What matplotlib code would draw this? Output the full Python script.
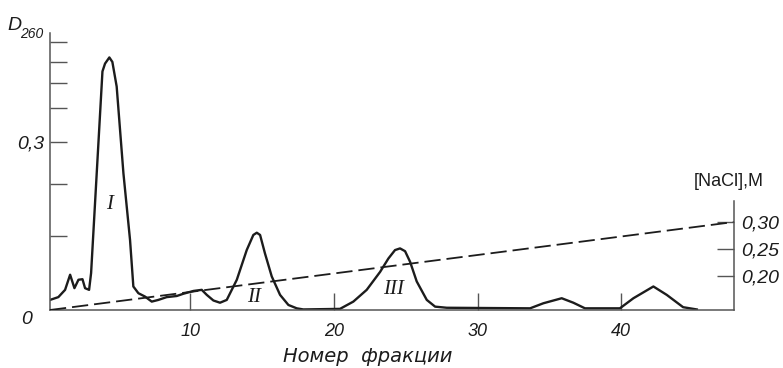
import matplotlib
matplotlib.use('Agg')
import matplotlib.pyplot as plt

# elution profile, D260 per fraction
fraction = [0.24, 0.82, 1.29, 1.64, 1.94, 2.22, 2.5, 2.68, 2.96, 3.10, 3.89, 4.07,
            4.37, 4.58, 4.88, 5.35, 5.81, 6.04, 6.39, 6.85, 7.32, 7.78, 8.36, 9.06,
            9.52, 10.22, 10.8, 11.15, 11.61, 12.07, 12.54, 12.89, 13.24, 13.93, 14.39,
            14.63, 14.86, 15.2, 15.67, 16.25, 16.83, 17.41, 17.87, 20.42, 21.35, 22.28,
            23.21, 23.79, 24.25, 24.6, 24.95, 25.3, 25.76, 26.46, 27.04, 27.85, 33.65,
            34.57, 35.85, 36.66, 37.47, 39.9, 40.84, 42.23, 43.16, 44.3, 45.25]
d260 = [0.018, 0.023, 0.036, 0.063, 0.039, 0.054, 0.055, 0.039, 0.036, 0.066, 0.426, 0.44,
        0.451, 0.443, 0.399, 0.244, 0.125, 0.042, 0.030, 0.024, 0.015, 0.018, 0.023, 0.025,
        0.029, 0.034, 0.036, 0.027, 0.017, 0.013, 0.018, 0.036, 0.054, 0.107, 0.134,
        0.138, 0.134, 0.101, 0.060, 0.027, 0.009, 0.003, 0.001, 0.002, 0.015, 0.036,
        0.068, 0.092, 0.107, 0.110, 0.105, 0.086, 0.051, 0.018, 0.006, 0.004, 0.003,
        0.012, 0.021, 0.013, 0.003, 0.003, 0.021, 0.042, 0.027, 0.005, 0.001]

# NaCl gradient
grad_fraction = [0.24, 47.84]
grad_nacl = [0.137, 0.300]

left_ticks = [0.132, 0.225, 0.3, 0.36, 0.405, 0.442, 0.478]
left_labels = ['', '', '0,3', '', '', '', '']
x_ticks = [10, 20, 30, 40]
right_ticks = [0.20, 0.25, 0.30]
right_labels = ['0,20', '0,25', '0,30']

peak_names = ['I', 'II', 'III']
peak_x = [4.42, 14.44, 24.18]
peak_y = [0.1875, 0.023, 0.036]

narrow = ['Liberation Sans', 'DejaVu Sans']
ink = '#1c1c1c'
spine_c = '#555555'

fig = plt.figure(figsize=(7.83, 3.68), dpi=100)
ax = fig.add_axes([50/783, 58/368, 684/783, 280/368])
ax2 = ax.twinx()

ax.plot(fraction, d260, color=ink, lw=1.7, solid_joinstyle='round')
ax2.plot(grad_fraction, grad_nacl, color=ink, lw=1.3, dashes=(9, 3.3))

ax.set_xlim(0.24, 47.84)
ax.set_ylim(0, 0.5)
ax2.set_ylim(0.137, 0.6556)

for a in (ax, ax2):
    a.spines['top'].set_visible(False)
    for s in a.spines.values():
        s.set_color(spine_c)
        s.set_linewidth(1.1)
ax.spines['right'].set_visible(False)
ax2.spines['left'].set_visible(False)
ax2.spines['bottom'].set_visible(False)
ax.spines['left'].set_bounds(0, 0.495)
ax2.spines['right'].set_bounds(0.137, 0.338)

ax.set_xticks(x_ticks)
ax.set_xticklabels([str(t) for t in x_ticks])
ax.tick_params(axis='x', direction='in', length=12, width=1, color=spine_c, pad=9,
               labelsize=13, labelcolor=ink)
ax.set_yticks(left_ticks)
ax.set_yticklabels(left_labels)
ax.tick_params(axis='y', direction='in', length=12, width=1, color=spine_c, pad=4,
               labelsize=14, labelcolor=ink)
ax2.set_yticks(right_ticks)
ax2.set_yticklabels(right_labels)
ax2.tick_params(axis='y', direction='in', length=12, width=1, color=spine_c, pad=5,
                labelsize=14, labelcolor=ink)

for lab in ax.get_xticklabels() + ax.get_yticklabels() + ax2.get_yticklabels():
    lab.set_family(narrow)
    lab.set_style('italic')

for name, px, py in zip(peak_names, peak_x, peak_y):
    ax.text(px, py, name, ha='center', va='center', fontsize=15, style='italic',
            family=['Liberation Serif', 'DejaVu Serif'], color=ink)

fig.text(27/783, 1 - 320/368, '0', ha='center', va='center', fontsize=14,
         style='italic', family=narrow, color=ink)
fig.text(14/783, 1 - 26/368, 'D', ha='center', va='center', fontsize=14,
         style='italic', family=narrow, color=ink)
fig.text(20/783, 1 - 34/368, '260', ha='left', va='center', fontsize=10,
         style='italic', family=narrow, color=ink)
fig.text(729/783, 1 - 181/368, '[NaCl],M', ha='center', va='center', fontsize=13,
         family=narrow, color=ink)
fig.text(368/783, 1 - 356/368, 'Номер  фракции', ha='center', va='center', fontsize=14,
         style='italic', family=['DejaVu Sans'], color=ink)

fig.savefig('out.png', dpi=100)
